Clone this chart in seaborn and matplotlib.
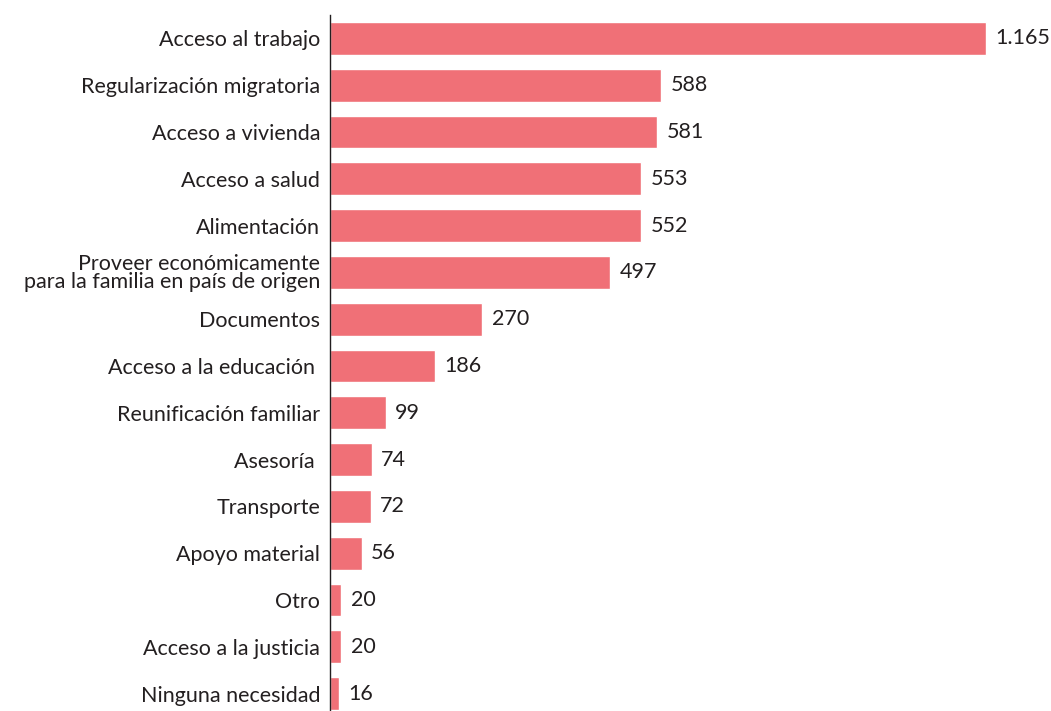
import matplotlib
matplotlib.use("Agg")
import matplotlib.pyplot as plt
import seaborn as sns
import pandas as pd

categories = ["Acceso al trabajo", "Regularización migratoria", "Acceso a vivienda",
              "Acceso a salud", "Alimentación",
              "Proveer económicamente\npara la familia en país de origen",
              "Documentos", "Acceso a la educación ", "Reunificación familiar",
              "Asesoría ", "Transporte", "Apoyo material", "Otro",
              "Acceso a la justicia", "Ninguna necesidad"]
values = [1165, 588, 581, 553, 552, 497, 270, 186, 99, 74, 72, 56, 20, 20, 16]
value_labels = ["1.165", "588", "581", "553", "552", "497", "270", "186", "99",
                "74", "72", "56", "20", "20", "16"]

sns.set_theme(style="white")
plt.rcParams['font.family'] = ['Lato', 'DejaVu Sans']

df = pd.DataFrame({"cat": categories, "val": values})

fig = plt.figure(figsize=(10.51, 7.11), dpi=100)
ax = fig.add_axes([330/1051, 0.0, (1040-330)/1051, 1 - 15/711])
sns.barplot(data=df, x="val", y="cat", color="#f07077", saturation=1,
            width=0.7, ax=ax, orient="h")
ax.set_xlim(0, 710/0.5631)
ax.set_ylim(14.37, -0.5)
for i, (v, lab) in enumerate(zip(values, value_labels)):
    ax.text(v + 17, i, lab, va="center", ha="left", fontsize=15.5, color="#231f20")
ax.set_xlabel("")
ax.set_ylabel("")
ax.set_xticks([])
ax.tick_params(axis="y", length=0, pad=7, labelsize=15.5, labelcolor="#231f20")
for lbl in ax.get_yticklabels():
    lbl.set_linespacing(0.85)
for s in ["top", "right", "bottom"]:
    ax.spines[s].set_visible(False)
ax.spines["left"].set_color("#231f20")
ax.spines["left"].set_linewidth(1.0)
ax.spines["left"].set_zorder(3)
fig.savefig("out.png", dpi=100)
